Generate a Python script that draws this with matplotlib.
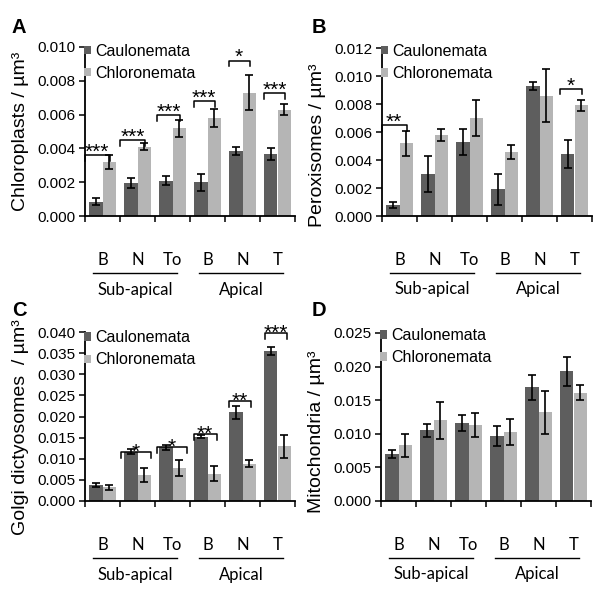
import matplotlib
matplotlib.use("Agg")
import matplotlib.pyplot as plt
from matplotlib.patches import Patch
import numpy as np

# ---------------- data ----------------
categories = ["B", "N", "To", "B", "N", "T"]
groups = ["Sub-apical", "Apical"]
series = ["Caulonemata", "Chloronemata"]

chloro_caul = [0.00085, 0.00195, 0.0021, 0.0020, 0.00385, 0.00365]
chloro_caul_err = [0.0002, 0.0003, 0.00025, 0.0005, 0.00025, 0.00035]
chloro_chlo = [0.0032, 0.0041, 0.0052, 0.0058, 0.0073, 0.0063]
chloro_chlo_err = [0.0004, 0.0002, 0.0005, 0.00055, 0.00105, 0.00035]

perox_caul = [0.0008, 0.0030, 0.0053, 0.0019, 0.0093, 0.0044]
perox_caul_err = [0.0002, 0.0013, 0.00095, 0.0011, 0.0003, 0.0010]
perox_chlo = [0.0052, 0.0058, 0.0070, 0.0046, 0.0086, 0.0079]
perox_chlo_err = [0.0009, 0.00045, 0.0013, 0.0005, 0.0019, 0.0004]

golgi_caul = [0.0037, 0.0117, 0.0127, 0.0152, 0.0210, 0.0355]
golgi_caul_err = [0.0005, 0.0005, 0.0006, 0.0004, 0.0016, 0.0010]
golgi_chlo = [0.0032, 0.0062, 0.0079, 0.0065, 0.0088, 0.0129]
golgi_chlo_err = [0.0007, 0.0016, 0.0019, 0.0018, 0.0008, 0.0028]

mito_caul = [0.0070, 0.0105, 0.0116, 0.0097, 0.0169, 0.0193]
mito_caul_err = [0.0006, 0.0010, 0.0012, 0.0015, 0.0019, 0.0022]
mito_chlo = [0.0083, 0.0120, 0.0113, 0.0103, 0.0132, 0.0161]
mito_chlo_err = [0.0017, 0.0028, 0.0018, 0.0019, 0.0032, 0.0011]

# significance: (category index, stars, bracket level)
sig_A = [(0, "***", 0.0036), (1, "***", 0.0045), (2, "***", 0.0060),
         (3, "***", 0.0068), (4, "*", 0.0092), (5, "***", 0.0073)]
sig_B = [(0, "**", 0.0065), (5, "*", 0.0091)]
sig_C = [(1, "*", 0.0116), (2, "*", 0.0128), (3, "**", 0.0159),
         (4, "**", 0.0237), (5, "***", 0.0397)]
sig_D = []

# ---------------- style ----------------
DARK = "#5e5e5e"
LIGHT = "#b5b5b5"
TICKFONT = "Liberation Sans"
CATFONT = "Lato"
plt.rcParams["font.family"] = [TICKFONT, "DejaVu Sans"]

fig = plt.figure(figsize=(6, 6), dpi=100)

W = 0.35
panels = [
    dict(letter="A", rect=[85/600, 0.64, W, 169/600], caul=chloro_caul, caul_e=chloro_caul_err,
         chlo=chloro_chlo, chlo_e=chloro_chlo_err, ymax=0.010, step=0.002,
         ylabel="Chloroplasts / µm³", ylab_y=0.5, sig=sig_A, leg_y=1.02, star_off=-2.0,
         spans=[(-0.5, 0.2), (-0.5, 0.22), (-0.44, 0.22), (-0.4, 0.2), (-0.4, 0.2), (-0.4, 0.22)],
         letter_xy=(12, 33)),
    dict(letter="B", rect=[382/600, 0.64, W, 168/600], caul=perox_caul, caul_e=perox_caul_err,
         chlo=perox_chlo, chlo_e=perox_chlo_err, ymax=0.012, step=0.002,
         ylabel="Peroxisomes / µm³", ylab_y=0.42, sig=sig_B, leg_y=1.025, star_off=-2.0,
         spans=[(-0.5, 0.2), (-0.42, 0.2)], letter_xy=(312, 33)),
    dict(letter="C", rect=[85/600, 0.165, W, 169/600], caul=golgi_caul, caul_e=golgi_caul_err,
         chlo=golgi_chlo, chlo_e=golgi_chlo_err, ymax=0.040, step=0.005,
         ylabel="Golgi dictyosomes  / µm³", ylab_y=0.44, sig=sig_C, leg_y=1.01, star_off=-4.0,
         spans=[(-0.47, 0.38), (-0.44, 0.42), (-0.4, 0.27), (-0.38, 0.25), (-0.36, 0.27)],
         letter_xy=(12, 316)),
    dict(letter="D", rect=[381/600, 0.165, W, 168/600], caul=mito_caul, caul_e=mito_caul_err,
         chlo=mito_chlo, chlo_e=mito_chlo_err, ymax=0.025, step=0.005,
         ylabel="Mitochondria / µm³", ylab_y=0.41, sig=sig_D, leg_y=1.03, star_off=-2.0,
         spans=[], letter_xy=(312, 316)),
]

x = np.arange(len(categories))
bw = 0.39

for p in panels:
    ax = fig.add_axes(p["rect"])
    ax.bar(x - bw/2, p["caul"], bw, color=DARK, label=series[0], zorder=2)
    ax.bar(x + bw/2, p["chlo"], bw, color=LIGHT, label=series[1], zorder=2)
    ekw = dict(fmt="none", ecolor="black", elinewidth=1.2, capsize=3.2, capthick=1.2, zorder=3)
    ax.errorbar(x - bw/2, p["caul"], yerr=p["caul_e"], **ekw)
    ax.errorbar(x + bw/2, p["chlo"], yerr=p["chlo_e"], **ekw)

    ax.set_xlim(-0.5, 5.5)
    ax.set_ylim(0, p["ymax"])
    ax.set_yticks(np.arange(0, p["ymax"] + p["step"]/2, p["step"]))
    ax.yaxis.set_major_formatter(matplotlib.ticker.FormatStrFormatter("%.3f"))
    ax.set_xticks(np.arange(-0.5, 6.0, 1.0))
    ax.set_xticklabels([])
    ax.tick_params(axis="both", direction="out", length=4.5, width=1.1, color="black",
                   labelsize=11, pad=2)
    for s in ["top", "right"]:
        ax.spines[s].set_visible(False)
    for s in ["left", "bottom"]:
        ax.spines[s].set_linewidth(1.3)
    ax.set_ylabel(p["ylabel"], fontsize=14, family=TICKFONT)
    ax.yaxis.set_label_coords(-0.265, p["ylab_y"])

    # legend
    handles = [Patch(facecolor=DARK, edgecolor="none"), Patch(facecolor=LIGHT, edgecolor="none")]
    ax.legend(handles, series, loc="upper left", bbox_to_anchor=(-0.005, p["leg_y"]),
              frameon=False, handlelength=0.45, handleheight=0.45, handletextpad=0.25,
              labelspacing=0.45, borderaxespad=0, borderpad=0,
              prop=dict(family=TICKFONT, size=11.5))

    # category labels and group lines
    trans = ax.get_xaxis_transform()
    for xi, c in zip(x, categories):
        ax.text(xi, -0.26, c, transform=trans, ha="center", va="center",
                fontsize=12, family=CATFONT, clip_on=False)
    for (x0, x1), g in zip([(-0.27, 2.13), (2.76, 5.16)], groups):
        ax.plot([x0, x1], [-0.337, -0.337], transform=trans, color="black",
                lw=1.0, clip_on=False)
        ax.text((x0 + x1) / 2, -0.435, g, transform=trans, ha="center", va="center",
                fontsize=12, family=CATFONT, clip_on=False)

    # significance brackets
    drop = p["ymax"] * 0.035
    for (ci, stars, lvl), (lo, hi) in zip(p["sig"], p["spans"]):
        xa, xb = ci + lo, ci + hi
        ax.plot([xa, xa, xb, xb], [lvl - drop, lvl, lvl, lvl - drop], color="black",
                lw=1.1, clip_on=False, zorder=4)
        ax.annotate(stars, xy=((xa + xb) / 2, lvl), xytext=(0, p["star_off"]),
                    textcoords="offset points", ha="center", va="baseline",
                    fontsize=15, family=TICKFONT, annotation_clip=False, zorder=5)

    fig.text(p["letter_xy"][0] / 600, 1 - p["letter_xy"][1] / 600, p["letter"],
             fontsize=14.5, fontweight="bold", family=TICKFONT, ha="left", va="baseline")

fig.savefig("out.png", dpi=100)
